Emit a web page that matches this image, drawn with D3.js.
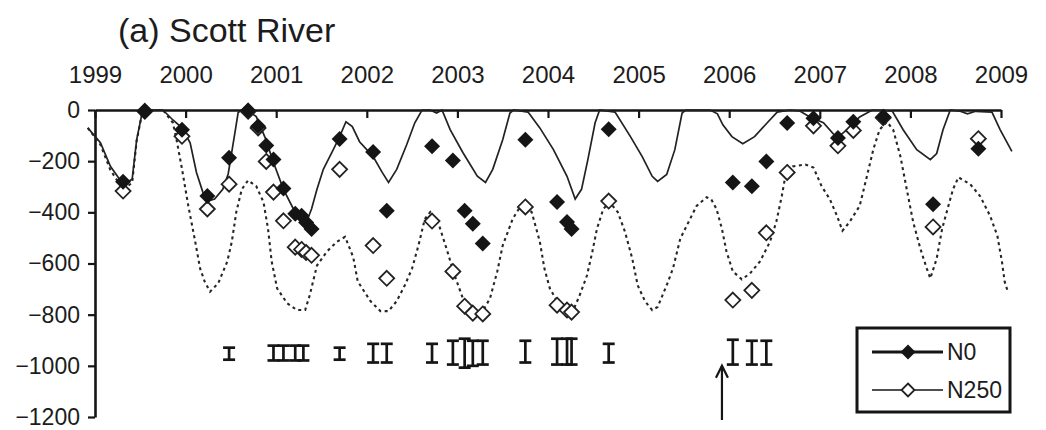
<!DOCTYPE html>
<html>
<head>
<meta charset="utf-8">
<script src="https://cdn.jsdelivr.net/npm/d3@7"></script>
<style>
  body { margin: 0; background: #fff; }
  svg text { font-family: "Liberation Sans", Arial, Helvetica, sans-serif; fill: #1c1c1c; }
</style>
</head>
<body>
<svg id="chart" width="1046" height="430"></svg>
<script>
// ---- data: water table depth (mm), decimal years ----
const yearTicks = [1999, 2000, 2001, 2002, 2003, 2004, 2005, 2006, 2007, 2008, 2009];
const depthTicks = [0, -200, -400, -600, -800, -1000, -1200];

// simulated, N0 treatment
const n0Model = [
  [1998.92,-70],[1999.06,-128],[1999.17,-220],[1999.31,-290],[1999.41,-271],[1999.46,-116],[1999.52,-12],[1999.57,0],
  [1999.75,0],[1999.86,-39],[1999.96,-70],[2000.05,-128],[2000.12,-244],[2000.19,-321],[2000.25,-356],[2000.32,-348],
  [2000.41,-310],[2000.47,-250],[2000.55,-77],[2000.58,-10],[2000.62,0],[2000.70,-5],[2000.78,-26],[2000.88,-110],
  [2000.97,-205],[2001.08,-310],[2001.19,-387],[2001.28,-418],[2001.34,-433],[2001.39,-387],[2001.45,-310],[2001.52,-232],
  [2001.63,-155],[2001.70,-104],[2001.77,-46],[2001.84,-65],[2001.92,-124],[2002.07,-182],[2002.17,-244],[2002.24,-283],
  [2002.33,-232],[2002.44,-136],[2002.53,-50],[2002.61,0],[2002.70,0],[2002.77,-12],[2002.83,0],[2002.92,-77],
  [2003.06,-166],[2003.22,-259],[2003.31,-283],[2003.39,-232],[2003.50,-116],[2003.58,-12],[2003.62,0],[2003.78,-8],
  [2003.91,-70],[2004.06,-155],[2004.21,-259],[2004.30,-348],[2004.37,-310],[2004.44,-194],[2004.52,-50],[2004.57,0],
  [2004.74,-8],[2004.91,-104],[2005.04,-182],[2005.15,-259],[2005.21,-279],[2005.31,-252],[2005.40,-155],[2005.48,-12],
  [2005.52,0],[2005.79,0],[2005.87,-15],[2005.93,-58],[2006.03,-104],[2006.15,-132],[2006.28,-104],[2006.42,-50],
  [2006.53,-8],[2006.67,0],[2006.78,-4],[2006.89,-27],[2007.04,-50],[2007.19,-110],[2007.30,-77],[2007.44,-27],
  [2007.58,0],[2007.80,-4],[2007.92,-77],[2008.07,-155],[2008.22,-194],[2008.29,-170],[2008.36,-77],[2008.44,0],
  [2008.55,-5],[2008.63,-15],[2008.72,-5],[2008.90,-8],[2008.99,-77],[2009.12,-162]
];

// simulated, N250 treatment
const n250Model = [
  [1998.92,-70],[1999.06,-135],[1999.17,-235],[1999.31,-310],[1999.41,-285],[1999.46,-120],[1999.52,-12],[1999.57,0],
  [1999.75,0],[1999.86,-50],[1999.90,-116],[1999.96,-230],[2000.03,-375],[2000.10,-503],[2000.16,-619],[2000.21,-670],
  [2000.27,-710],[2000.36,-677],[2000.46,-592],[2000.51,-515],[2000.56,-398],[2000.62,-310],[2000.69,-275],[2000.78,-298],
  [2000.86,-360],[2000.91,-465],[2000.95,-592],[2001.01,-697],[2001.12,-755],[2001.23,-782],[2001.32,-782],[2001.37,-724],
  [2001.45,-608],[2001.56,-553],[2001.67,-515],[2001.76,-496],[2001.85,-575],[2001.90,-670],[2002.04,-747],[2002.15,-786],
  [2002.24,-786],[2002.33,-747],[2002.42,-685],[2002.50,-619],[2002.57,-530],[2002.64,-426],[2002.70,-399],[2002.80,-453],
  [2002.88,-542],[2002.97,-647],[2003.06,-736],[2003.17,-786],[2003.28,-786],[2003.36,-736],[2003.44,-631],[2003.50,-530],
  [2003.61,-426],[2003.71,-368],[2003.82,-399],[2003.91,-515],[2003.96,-619],[2004.02,-697],[2004.10,-747],[2004.21,-782],
  [2004.28,-782],[2004.35,-724],[2004.43,-647],[2004.49,-553],[2004.54,-465],[2004.61,-387],[2004.68,-360],[2004.77,-399],
  [2004.85,-476],[2004.93,-581],[2004.99,-685],[2005.07,-747],[2005.15,-782],[2005.21,-770],[2005.31,-685],[2005.38,-619],
  [2005.46,-503],[2005.53,-453],[2005.64,-375],[2005.75,-341],[2005.80,-348],[2005.86,-387],[2005.92,-465],[2005.97,-553],
  [2006.04,-631],[2006.14,-662],[2006.23,-639],[2006.34,-592],[2006.45,-515],[2006.52,-437],[2006.58,-337],[2006.62,-259],
  [2006.70,-221],[2006.84,-213],[2006.93,-225],[2007.02,-298],[2007.11,-348],[2007.19,-414],[2007.25,-472],[2007.33,-437],
  [2007.44,-375],[2007.52,-259],[2007.59,-155],[2007.66,-77],[2007.74,-46],[2007.81,-77],[2007.89,-182],[2007.96,-310],
  [2008.03,-437],[2008.11,-542],[2008.18,-619],[2008.22,-658],[2008.29,-581],[2008.35,-465],[2008.41,-387],[2008.47,-310],
  [2008.53,-263],[2008.66,-290],[2008.77,-337],[2008.88,-414],[2008.96,-492],[2009.01,-592],[2009.04,-670],[2009.08,-716]
];

// observed sampling dates and measured depths
const obsYears = [1999.31,1999.55,1999.96,2000.24,2000.48,2000.69,2000.80,2000.89,2000.97,2001.08,2001.21,2001.28,
  2001.33,2001.39,2001.70,2002.07,2002.22,2002.72,2002.95,2003.08,2003.17,2003.28,2003.75,2004.10,2004.21,2004.26,
  2004.67,2006.04,2006.25,2006.41,2006.64,2006.93,2007.20,2007.37,2007.70,2008.25,2008.75];
const n0Obs = [-280,-5,-77,-336,-187,-2,-64,-139,-193,-307,-406,-413,-440,-465,-113,-164,-394,-142,-197,-394,-445,-522,
  -116,-360,-438,-465,-75,-283,-298,-201,-51,-32,-109,-46,-26,-368,-151];
const n250Obs = [-317,-5,-103,-387,-290,-5,-70,-201,-321,-433,-536,-545,-557,-568,-232,-530,-658,-434,-631,-767,-794,-797,
  -379,-763,-782,-790,-356,-743,-705,-480,-244,-62,-140,-80,-30,-457,-112];

// measurement uncertainty bars
const errYears = [2000.48,2000.97,2001.08,2001.21,2001.30,2001.70,2002.07,2002.22,2002.72,2002.95,2003.08,2003.17,2003.28,
  2003.75,2004.10,2004.21,2004.26,2004.67,2006.04,2006.25,2006.41];
const errHigh = [-929,-921,-921,-921,-921,-929,-914,-914,-914,-902,-894,-902,-902,-902,-894,-894,-894,-914,-898,-902,-902];
const errLow  = [-976,-979,-979,-979,-979,-976,-987,-987,-987,-995,-1007,-1000,-995,-987,-995,-995,-995,-987,-995,-995,-995];

const arrowYear = 2005.92;
const arrowFrom = -1200, arrowTo = -1000;

const legendLabels = ["N0", "N250"];

// ---- scales ----
const svg = d3.select("#chart");
const x = d3.scaleLinear().domain([1999, 2009]).range([95, 1001]);
const y = d3.scaleLinear().domain([0, -1200]).range([110, 417]);

const ink = "#151515";
const diamond = r => `M0,${-r}L${r},0L0,${r}L${-r},0Z`;

// title
svg.append("text").attr("x", 118).attr("y", 42)
  .attr("font-size", 34).text("(a) Scott River");

// top (time) axis
const xAxis = d3.axisTop(x).tickValues(yearTicks).tickFormat(d3.format("d"))
  .tickSizeInner(-8).tickSizeOuter(0).tickPadding(27);
const gx = svg.append("g").attr("transform", `translate(0,${y(0)})`).call(xAxis);
gx.select(".domain").attr("stroke", ink).attr("stroke-width", 2.6);
gx.selectAll(".tick line").attr("stroke", ink).attr("stroke-width", 2.2);
gx.selectAll(".tick text").attr("font-size", 24).attr("fill", "#1c1c1c")
  .attr("font-family", "Liberation Sans, Arial, sans-serif");

// left (depth) axis
const yAxis = d3.axisLeft(y).tickValues(depthTicks).tickFormat(d3.format("d"))
  .tickSizeInner(7).tickSizeOuter(0).tickPadding(8);
const gy = svg.append("g").attr("transform", `translate(${x(1999)},0)`).call(yAxis);
gy.select(".domain").attr("stroke", ink).attr("stroke-width", 2.6);
gy.selectAll(".tick line").attr("stroke", ink).attr("stroke-width", 2.2);
gy.selectAll(".tick text").attr("font-size", 23).attr("fill", "#1c1c1c")
  .attr("font-family", "Liberation Sans, Arial, sans-serif");

// simulated lines
const line = d3.line().x(d => x(d[0])).y(d => y(d[1]));
svg.append("path").datum(n250Model).attr("d", line)
  .attr("fill", "none").attr("stroke", "#262626").attr("stroke-width", 2.1)
  .attr("stroke-dasharray", "3,3.5");
svg.append("path").datum(n0Model).attr("d", line)
  .attr("fill", "none").attr("stroke", "#222").attr("stroke-width", 1.7);

// observed, N250 (open diamonds)
svg.append("g").selectAll("path").data(obsYears).join("path")
  .attr("transform", (d, i) => `translate(${x(d)},${y(n250Obs[i])})`)
  .attr("d", diamond(7.5)).attr("fill", "#fff").attr("stroke", "#222").attr("stroke-width", 1.8);

// observed, N0 (filled diamonds)
svg.append("g").selectAll("path").data(obsYears).join("path")
  .attr("transform", (d, i) => `translate(${x(d)},${y(n0Obs[i])})`)
  .attr("d", diamond(8)).attr("fill", ink);

// uncertainty bars
const eb = svg.append("g").attr("stroke", ink).attr("stroke-width", 2.7).attr("fill", "none");
errYears.forEach((t, i) => {
  const cx = x(t), y0 = y(errLow[i]), y1 = y(errHigh[i]);
  eb.append("line").attr("x1", cx).attr("x2", cx).attr("y1", y0).attr("y2", y1);
  eb.append("line").attr("x1", cx - 6).attr("x2", cx + 6).attr("y1", y0).attr("y2", y0);
  eb.append("line").attr("x1", cx - 6).attr("x2", cx + 6).attr("y1", y1).attr("y2", y1);
});

// arrow annotation
const ax = x(arrowYear), aTop = y(arrowTo), aBot = y(arrowFrom) + 3;
const ar = svg.append("g").attr("stroke", ink).attr("stroke-width", 2.2).attr("fill", "none");
ar.append("line").attr("x1", ax).attr("x2", ax).attr("y1", aBot).attr("y2", aTop);
ar.append("path").attr("d", `M${ax - 6},${aTop + 12}L${ax},${aTop}L${ax + 6},${aTop + 12}`);

// legend
const lg = svg.append("g");
lg.append("rect").attr("x", 857).attr("y", 328).attr("width", 153).attr("height", 84)
  .attr("fill", "#fff").attr("stroke", ink).attr("stroke-width", 3);
const rows = [
  { y: 352, w: 3, fill: ink, stroke: null, r: 7.5 },
  { y: 390, w: 1.4, fill: "#fff", stroke: "#222", r: 6.5 }
];
rows.forEach((r, i) => {
  lg.append("line").attr("x1", 872).attr("x2", 943).attr("y1", r.y).attr("y2", r.y)
    .attr("stroke", ink).attr("stroke-width", r.w);
  lg.append("path").attr("transform", `translate(908,${r.y})`).attr("d", diamond(r.r))
    .attr("fill", r.fill).attr("stroke", r.stroke).attr("stroke-width", 1.8);
  lg.append("text").attr("x", 947).attr("y", r.y).attr("dy", "0.36em")
    .attr("font-size", 23).text(legendLabels[i]);
});
</script>
</body>
</html>
